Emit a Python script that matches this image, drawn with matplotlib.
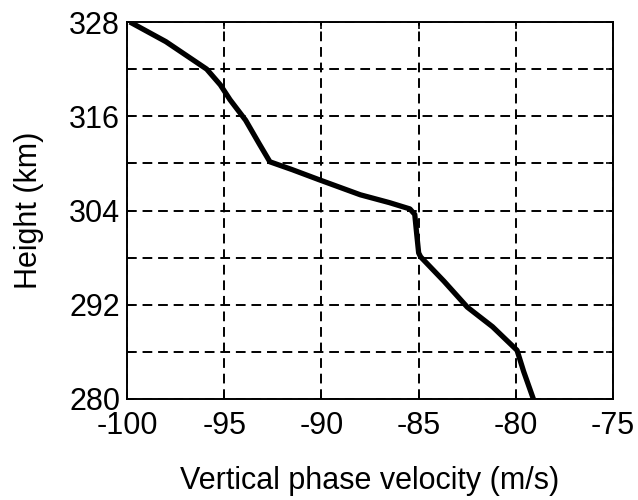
import matplotlib.pyplot as plt

# Curve (velocity in m/s, height in km)
velocity = [-99.85, -98.0, -95.9, -95.2, -94.7, -93.9, -93.2, -92.65, -91.5,
            -90.1, -88.0, -86.5, -85.45, -85.2, -85.1, -85.0, -84.9, -83.7,
            -82.5, -81.2, -79.94, -79.6, -79.1]
height = [328.0, 325.5, 322.0, 320.0, 318.1, 315.5, 312.5, 310.2, 309.2,
          307.9, 306.0, 305.0, 304.2, 303.5, 301.0, 298.6, 298.1, 295.0,
          291.7, 289.2, 286.2, 283.5, 280.0]

xticks = [-100, -95, -90, -85, -80, -75]
yticks = [280, 286, 292, 298, 304, 310, 316, 322, 328]
ylabels = ['280', '', '292', '', '304', '', '316', '', '328']

plt.rcParams['font.family'] = ['Liberation Sans', 'DejaVu Sans']

fig = plt.figure(figsize=(6.38, 5.0), dpi=100)
ax = fig.add_axes([0.199, 0.202, 0.762, 0.754])

ax.plot(velocity, height, color='black', linewidth=3.8, solid_capstyle='butt')

ax.set_xlim(-100, -75)
ax.set_ylim(280, 328)
ax.set_xticks(xticks)
ax.set_xticklabels([str(t) for t in xticks])
ax.set_yticks(yticks)
ax.set_yticklabels(ylabels)
ax.tick_params(direction='in', length=5, width=1.2, labelsize=22,
               top=True, right=True)
ax.tick_params(axis='x', pad=9)
ax.tick_params(axis='y', pad=5)
ax.grid(True, color='black', linestyle=(0, (5, 3)), linewidth=1.4)
for s in ax.spines.values():
    s.set_linewidth(1.4)

ax.set_xlabel('Vertical phase velocity (m/s)', fontsize=22, labelpad=18)
ax.set_ylabel('Height (km)', fontsize=22, labelpad=18)

fig.savefig('out.png', dpi=100)
